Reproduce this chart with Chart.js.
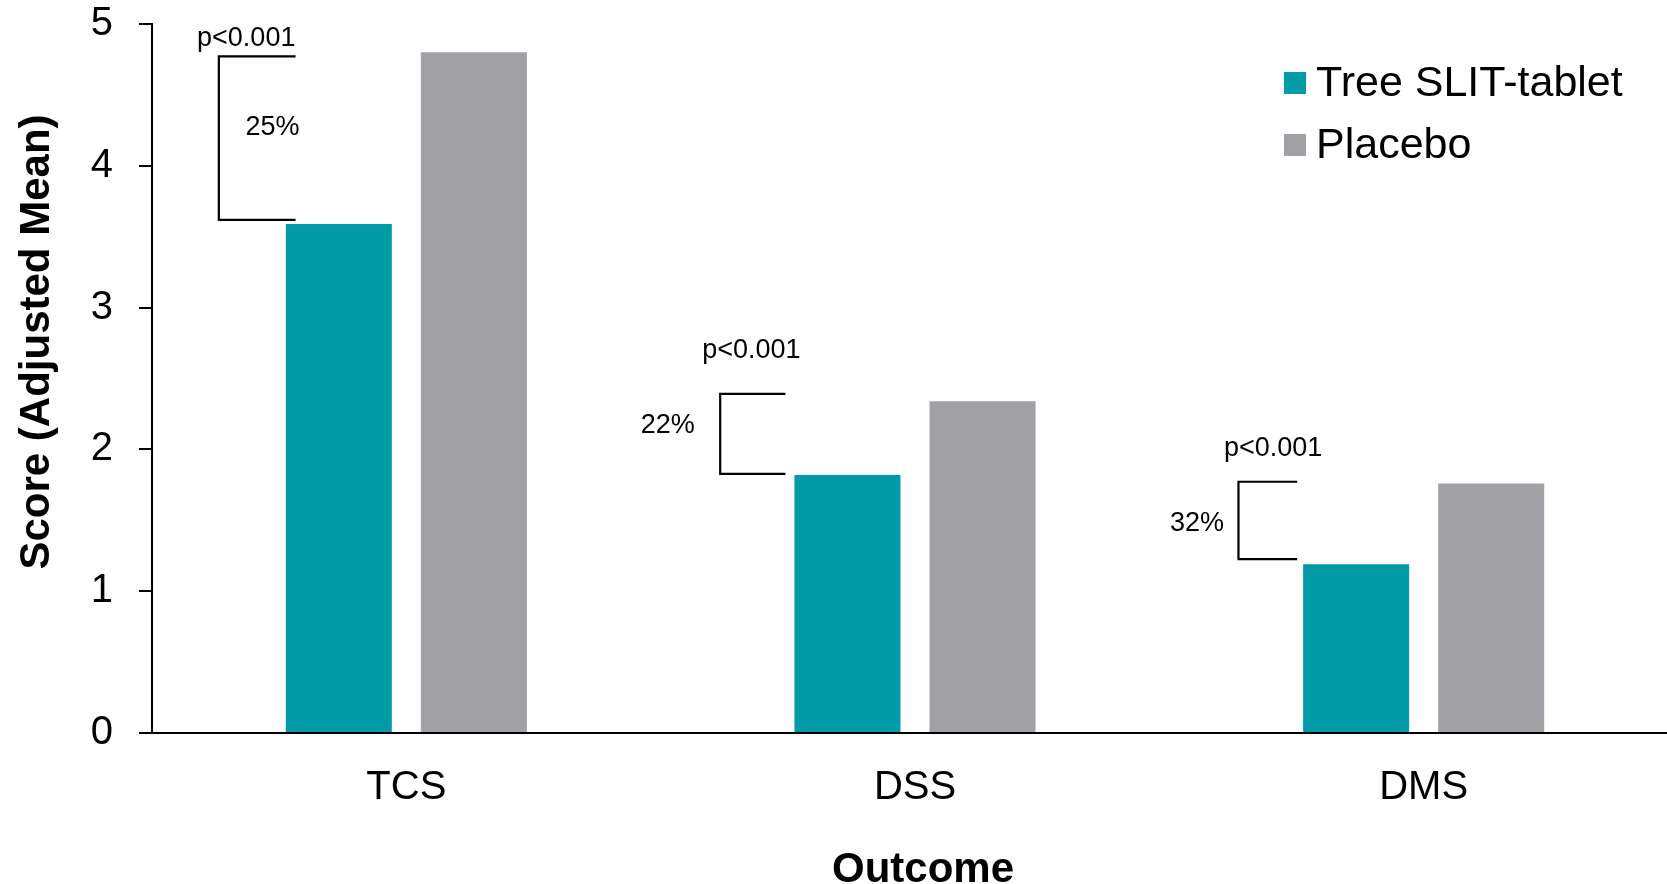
<!DOCTYPE html>
<html>
<head>
<meta charset="utf-8">
<style>
  html, body { margin: 0; padding: 0; background: #ffffff; overflow: hidden; width: 1667px; height: 884px; }
  canvas { display: block; }
</style>
<script src="https://cdn.jsdelivr.net/npm/chart.js@4.4.1/dist/chart.umd.min.js"></script>
</head>
<body>
<canvas id="c" width="1680" height="884"></canvas>
<script>
// ---- Data ----
const categories = ['TCS', 'DSS', 'DMS'];
const slitValues = [3.59, 1.82, 1.19];
const placeboValues = [4.80, 2.34, 1.76];
const seriesNames = ['Tree SLIT-tablet', 'Placebo'];
const yTicks = [0, 1, 2, 3, 4, 5];
const pLabels = ['p<0.001', 'p<0.001', 'p<0.001'];
const reductionLabels = ['25%', '22%', '32%'];
const yTitle = 'Score (Adjusted Mean)';
const xTitle = 'Outcome';

// ---- Annotation layout (offsets from category centre in px, heights in axis units) ----
const bracketLayout = [
  { left: -187.5, right: -110.8, top: 4.772, bottom: 3.619, pX: -160.1, pY: 4.842, rX: -133.8, rY: 4.219 },
  { left: -194.8, right: -129.5, top: 2.391, bottom: 1.828, pX: -163.7, pY: 2.647, rX: -247.2, rY: 2.117 },
  { left: -185.2, right: -126.5, top: 1.772, bottom: 1.226, pX: -150.5, pY: 1.953, rX: -226.7, rY: 1.424 }
];

const TEAL = '#009ba7';
const GREY = '#a1a0a5';
const FONT = '"Liberation Sans", Arial, sans-serif';

const overlay = {
  id: 'overlay',
  afterDraw(chart) {
    const ctx = chart.ctx;
    const xs = chart.scales.x, ys = chart.scales.y;
    ctx.save();
    ctx.strokeStyle = '#000';
    ctx.lineWidth = 2.2;
    ctx.fillStyle = '#000';
    ctx.font = '27px ' + FONT;
    ctx.textAlign = 'center';
    ctx.textBaseline = 'alphabetic';
    categories.forEach((c, i) => {
      const cx = xs.getPixelForValue(i);
      const L = bracketLayout[i];
      const yt = ys.getPixelForValue(L.top), yb = ys.getPixelForValue(L.bottom);
      ctx.beginPath();
      ctx.moveTo(cx + L.right, yt);
      ctx.lineTo(cx + L.left, yt);
      ctx.lineTo(cx + L.left, yb);
      ctx.lineTo(cx + L.right, yb);
      ctx.stroke();
      ctx.fillText(pLabels[i], cx + L.pX, ys.getPixelForValue(L.pY));
      ctx.fillText(reductionLabels[i], cx + L.rX, ys.getPixelForValue(L.rY));
    });
    // axis titles
    ctx.font = 'bold 42px ' + FONT;
    ctx.textBaseline = 'middle';
    ctx.save();
    ctx.translate(37, 342);
    ctx.rotate(-Math.PI / 2);
    ctx.fillText(yTitle, 0, 0);
    ctx.restore();
    ctx.fillText(xTitle, 923, 870);
    // legend
    ctx.font = '43px ' + FONT;
    ctx.textAlign = 'left';
    chart.data.datasets.forEach((ds, i) => {
      const top = 72 + i * 62;
      ctx.fillStyle = ds.backgroundColor;
      ctx.fillRect(1284, top, 22, 22);
      ctx.fillStyle = '#000';
      ctx.fillText(ds.label, 1316, top + 12);
    });
    ctx.restore();
  }
};

new Chart(document.getElementById('c'), {
  type: 'bar',
  data: {
    labels: categories,
    datasets: [
      { label: seriesNames[0], data: slitValues, backgroundColor: TEAL },
      { label: seriesNames[1], data: placeboValues, backgroundColor: GREY }
    ]
  },
  options: {
    responsive: false,
    animation: false,
    devicePixelRatio: 1,
    layout: { padding: { top: 24, right: 2, left: 0, bottom: 0 } },
    datasets: { bar: { categoryPercentage: 0.531, barPercentage: 0.785 } },
    plugins: { legend: { display: false }, tooltip: { enabled: false } },
    scales: {
      x: {
        grid: { display: false, drawTicks: false },
        border: { display: true, color: '#000', width: 2 },
        ticks: { color: '#000', font: { family: FONT, size: 40 }, padding: 31 },
        afterFit(scale) { scale.height = 151; scale.paddingLeft = 0; scale.paddingRight = 0; }
      },
      y: {
        min: 0, max: 5,
        afterBuildTicks(scale) { scale.ticks = yTicks.map(v => ({ value: v })); },
        grid: { drawOnChartArea: false, drawTicks: true, tickLength: 13, color: '#000', lineWidth: 2 },
        border: { display: true, color: '#000', width: 2 },
        ticks: { color: '#000', font: { family: FONT, size: 40 }, padding: 26 },
        afterFit(scale) { scale.width = 152; scale.paddingTop = 0; scale.paddingBottom = 0; }
      }
    }
  },
  plugins: [overlay]
});
</script>
</body>
</html>
